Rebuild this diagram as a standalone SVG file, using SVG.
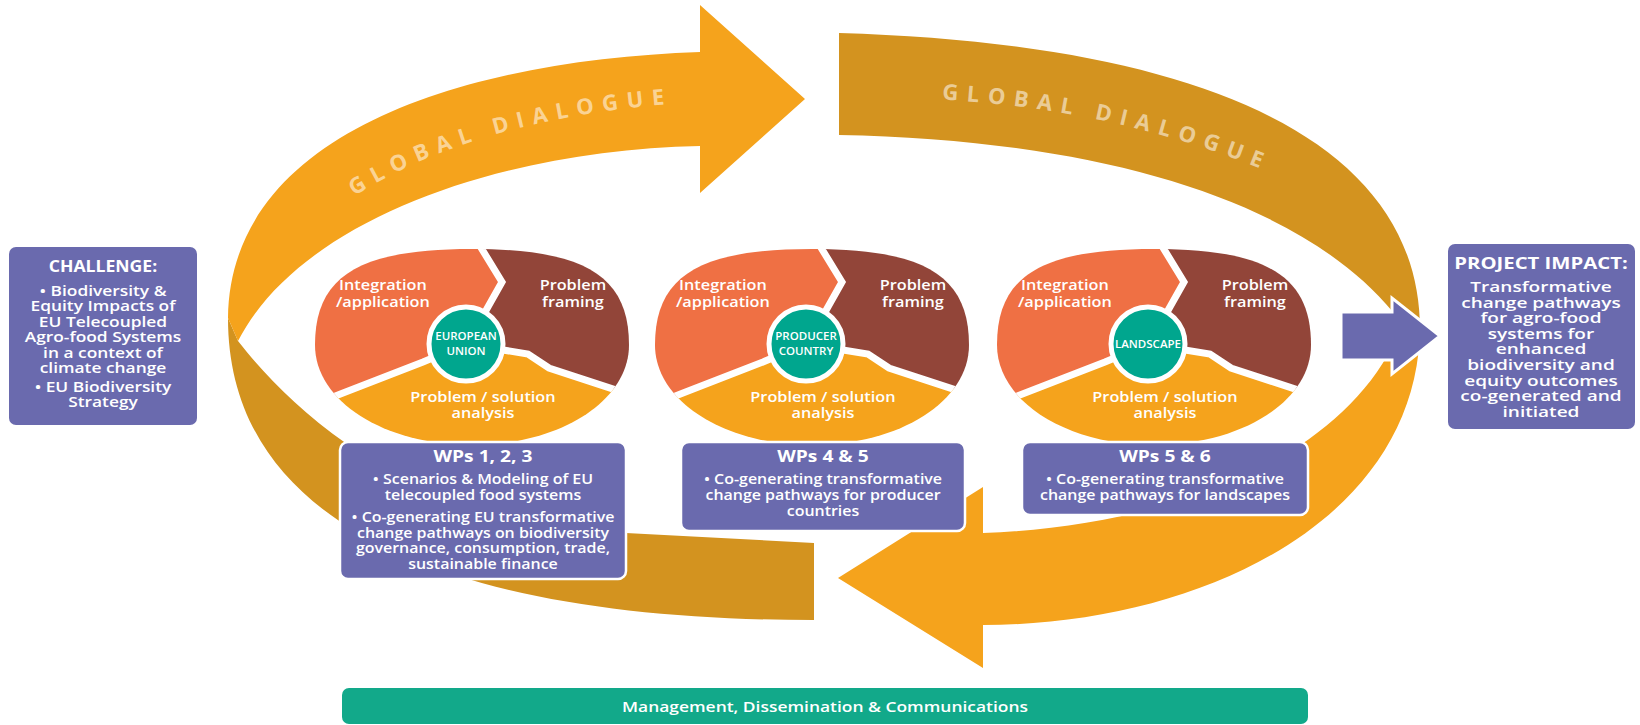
<svg xmlns="http://www.w3.org/2000/svg" width="1640" height="725" viewBox="0 0 1640 725">
<defs>
<style>
.t{font-family:"Open Sans","Liberation Sans",sans-serif;fill:#fff;text-anchor:middle}
.h{font-size:16px;font-weight:700}
.b{font-size:14px;font-weight:600}
.c{font-size:15px;font-weight:600}
.k{font-size:11.5px;font-weight:600}
.box{fill:#6A6AAE}
.wp{fill:#6A6AAE;stroke:#fff;stroke-width:2.5}
.gd{font-family:"Open Sans","Liberation Sans",sans-serif;font-size:22px;font-weight:700;letter-spacing:8.5px;fill:#fff;fill-opacity:0.55}
.gap{fill:none;stroke:#fff;stroke-width:7;stroke-linejoin:miter}
</style>
<clipPath id="shape"><path d="M -168,345 C -168,276 -124,249 -11,249 C 102,249 146,276 146,345 C 146,401 77,445 -11,445 C -99,445 -168,401 -168,345 Z"/></clipPath>
<g id="cyc">
 <g clip-path="url(#shape)">
  <polygon fill="#EF7044" points="-17,344 1,314 19,282 -14,228 -230,228 -230,428 -140,393 -60,362"/>
  <polygon fill="#924539" points="-17,344 1,314 19,282 -14,228 220,228 220,412 200,412 66,368 45,354"/>
  <polygon fill="#F5A31C" points="-17,344 45,354 66,368 200,412 220,412 220,470 -240,470 -240,428 -230,428 -140,393 -60,362"/>
  <polyline class="gap" points="-14,228 19,282 1,314 -17,344"/>
  <polyline class="gap" points="-17,344 45,354 66,368 200,412"/>
  <polyline class="gap" points="-17,344 -60,362 -140,393 -230,428"/>
 </g>
 <circle cx="-17" cy="344" r="37" fill="#00A68E" stroke="#fff" stroke-width="5"/>
</g>
<path id="pa" d="M 300,240 C 380,160 520,112 700,102"/>
<path id="pb" d="M 880,98 C 1040,98 1190,130 1330,200"/>
</defs>

<g id="connectors">
 <path id="loop-bottom-left" fill="#D3931F" d="M 814,543 L 814,620 C 480,620 228,540 228,318 L 238,341 C 300,420 420,525 626,533 L 814,543 Z"/>
 <path id="loop-top-left" fill="#F5A31C" d="M 700,52 L 700,5 L 805,99 L 700,193 L 700,146 C 500,150 300,220 238,341 L 228,318 C 230,130 470,60 700,52 Z"/>
 <path id="loop-top-right" fill="#D3931F" d="M 839,33 C 1180,43 1420,130 1420,330 L 1393,312 C 1300,200 1100,140 839,135 Z"/>
 <path id="loop-bottom-right" fill="#F5A31C" d="M 1420,325 C 1420,520 1200,625 983,625 L 983,668 L 838,578 L 983,487 L 983,533 C 1150,527 1330,470 1393,345 Z"/>
 <text class="gd"><textPath href="#pa" startOffset="70">GLOBAL DIALOGUE</textPath></text>
 <text class="gd"><textPath href="#pb" startOffset="62">GLOBAL DIALOGUE</textPath></text>
 <path id="impact-arrow" fill="#6A6AAE" stroke="#fff" stroke-width="3" stroke-linejoin="miter" d="M 1341,312 L 1392,312 L 1392,298 L 1440,336 L 1392,374 L 1392,360 L 1341,360 Z"/>
</g>

<g id="challenge">
 <rect class="box" x="9" y="247" width="188" height="178" rx="7"/>
 <g transform="matrix(1.1,0,0,1,-10.3,0)">
  <text class="t h" x="103" y="272">CHALLENGE:</text>
 </g>
 <g transform="matrix(1.24,0,0,1,-24.72,0)">
  <text class="t b" x="103" y="296">• Biodiversity &amp;</text>
  <text class="t b" x="103" y="311.5">Equity Impacts of</text>
  <text class="t b" x="103" y="327">EU Telecoupled</text>
  <text class="t b" x="103" y="342.5">Agro-food Systems</text>
  <text class="t b" x="103" y="358">in a context of</text>
  <text class="t b" x="103" y="373.5">climate change</text>
  <text class="t b" x="103" y="392">• EU Biodiversity</text>
  <text class="t b" x="103" y="407.5">Strategy</text>
 </g>
</g>

<g id="project-impact">
 <rect class="box" x="1448" y="244" width="187" height="185" rx="7"/>
 <g transform="matrix(1.27,0,0,1,-416.07,0)">
  <text class="t h" x="1541" y="269">PROJECT IMPACT:</text>
 </g>
 <g transform="matrix(1.36,0,0,1,-554.76,0)">
  <text class="t b" x="1541" y="292">Transformative</text>
  <text class="t b" x="1541" y="307.6">change pathways</text>
  <text class="t b" x="1541" y="323.2">for agro-food</text>
  <text class="t b" x="1541" y="338.8">systems for</text>
  <text class="t b" x="1541" y="354.4">enhanced</text>
  <text class="t b" x="1541" y="370">biodiversity and</text>
  <text class="t b" x="1541" y="385.6">equity outcomes</text>
  <text class="t b" x="1541" y="401.2">co-generated and</text>
  <text class="t b" x="1541" y="416.8">initiated</text>
 </g>
</g>

<g id="cycle-european-union">
 <use href="#cyc" x="483"/>
 <g transform="matrix(1.085,0,0,1,-41.06,0)">
  <text class="t c" x="390.8" y="290">Integration</text>
  <text class="t c" x="390.8" y="307">/application</text>
  <text class="t c" x="565.9" y="290">Problem</text>
  <text class="t c" x="565.9" y="307">framing</text>
  <text class="t c" x="483" y="402">Problem / solution</text>
  <text class="t c" x="483" y="418">analysis</text>
 </g>
 <text class="t k" x="466" y="340">EUROPEAN</text>
 <text class="t k" x="466" y="355">UNION</text>
</g>

<g id="cycle-producer-country">
 <use href="#cyc" x="823"/>
 <g transform="matrix(1.085,0,0,1,-69.96,0)">
  <text class="t c" x="730.8" y="290">Integration</text>
  <text class="t c" x="730.8" y="307">/application</text>
  <text class="t c" x="905.9" y="290">Problem</text>
  <text class="t c" x="905.9" y="307">framing</text>
  <text class="t c" x="823" y="402">Problem / solution</text>
  <text class="t c" x="823" y="418">analysis</text>
 </g>
 <text class="t k" x="806" y="340">PRODUCER</text>
 <text class="t k" x="806" y="355">COUNTRY</text>
</g>

<g id="cycle-landscape">
 <use href="#cyc" x="1165"/>
 <g transform="matrix(1.085,0,0,1,-99.03,0)">
  <text class="t c" x="1072.8" y="290">Integration</text>
  <text class="t c" x="1072.8" y="307">/application</text>
  <text class="t c" x="1247.9" y="290">Problem</text>
  <text class="t c" x="1247.9" y="307">framing</text>
  <text class="t c" x="1165" y="402">Problem / solution</text>
  <text class="t c" x="1165" y="418">analysis</text>
 </g>
 <text class="t k" x="1148" y="348">LANDSCAPE</text>
</g>

<g id="wps-1-2-3">
 <rect class="wp" x="340" y="442" width="286" height="137" rx="8"/>
 <g transform="matrix(1.2,0,0,1,-96.6,0)">
  <text class="t h" x="483" y="462">WPs 1, 2, 3</text>
 </g>
 <g transform="matrix(1.14,0,0,1,-67.62,0)">
  <text class="t b" x="483" y="484">• Scenarios &amp; Modeling of EU</text>
  <text class="t b" x="483" y="500">telecoupled food systems</text>
  <text class="t b" x="483" y="522">• Co-generating EU transformative</text>
  <text class="t b" x="483" y="537.7">change pathways on biodiversity</text>
  <text class="t b" x="483" y="553.4">governance, consumption, trade,</text>
  <text class="t b" x="483" y="569">sustainable finance</text>
 </g>
</g>

<g id="wps-4-5">
 <rect class="wp" x="681" y="442" width="284" height="89" rx="8"/>
 <g transform="matrix(1.2,0,0,1,-164.6,0)">
  <text class="t h" x="823" y="462">WPs 4 &amp; 5</text>
 </g>
 <g transform="matrix(1.14,0,0,1,-115.22,0)">
  <text class="t b" x="823" y="484">• Co-generating transformative</text>
  <text class="t b" x="823" y="500">change pathways for producer</text>
  <text class="t b" x="823" y="516">countries</text>
 </g>
</g>

<g id="wps-5-6">
 <rect class="wp" x="1022" y="442" width="286" height="73" rx="8"/>
 <g transform="matrix(1.2,0,0,1,-233,0)">
  <text class="t h" x="1165" y="462">WPs 5 &amp; 6</text>
 </g>
 <g transform="matrix(1.14,0,0,1,-163.1,0)">
  <text class="t b" x="1165" y="484">• Co-generating transformative</text>
  <text class="t b" x="1165" y="500">change pathways for landscapes</text>
 </g>
</g>

<g id="management">
 <rect x="342" y="688" width="966" height="36" rx="7" fill="#12A98A"/>
 <text class="t" x="825" y="711.5" style="font-size:15px;font-weight:600" textLength="406" lengthAdjust="spacingAndGlyphs">Management, Dissemination &amp; Communications</text>
</g>
</svg>
